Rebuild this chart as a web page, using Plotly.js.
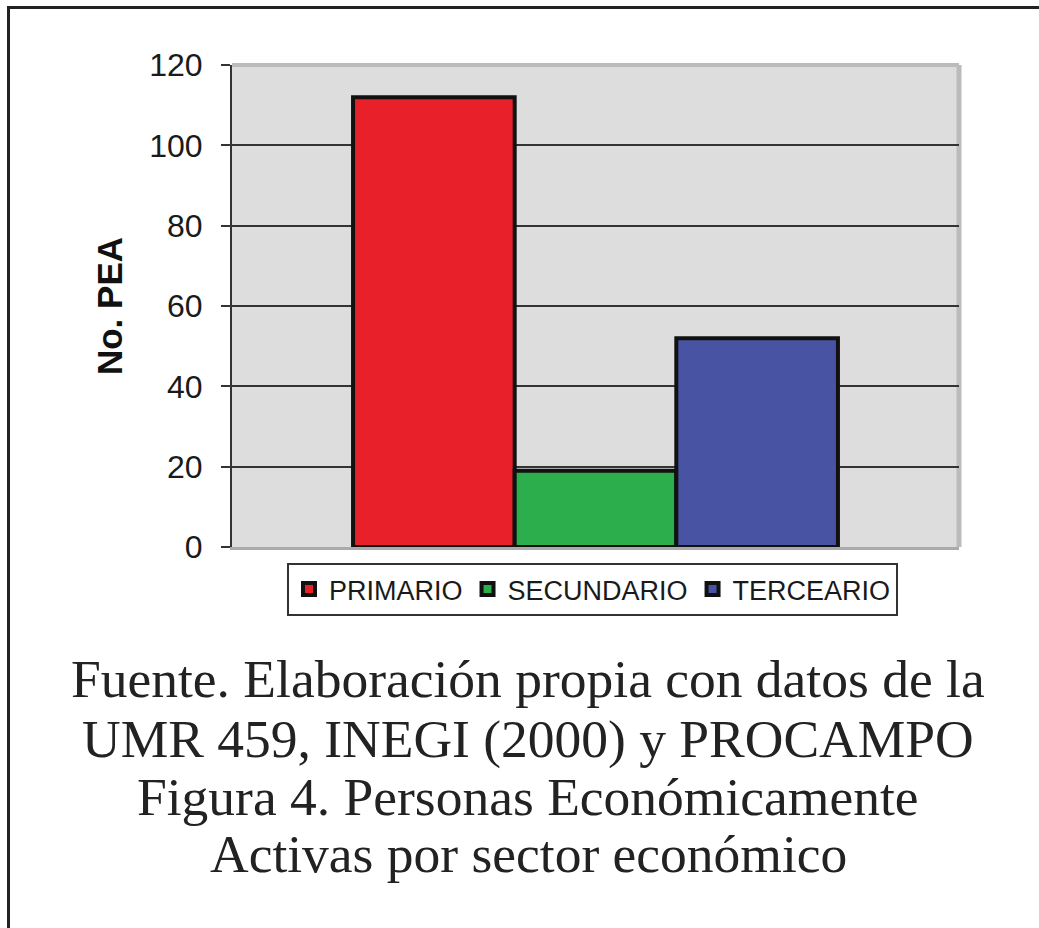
<!DOCTYPE html>
<html>
<head>
<meta charset="utf-8">
<script src="https://cdn.plot.ly/plotly-3.0.1.min.js"></script>
<style>
  html, body { margin: 0; padding: 0; background: #fff; }
  #wrap { position: relative; width: 1039px; height: 928px; overflow: hidden; }
  #chart { position: absolute; left: 0; top: 0; width: 1039px; height: 928px; }
  #frame { position: absolute; left: 7px; top: 6px; width: 1100px; height: 1000px;
           border-top: 3px solid #222; border-left: 3px solid #222; pointer-events: none; }
</style>
</head>
<body>
<div id="wrap">
  <div id="chart"></div>
  <div id="frame"></div>
</div>
<script>
// ---- data ----
const category = ["Sector"];
const seriesNames = ["PRIMARIO", "SECUNDARIO", "TERCEARIO"];
const seriesValues = [112, 19, 52];
const seriesColors = ["#E8202A", "#2BAE4B", "#4853A3"];
const yTickVals = [0, 20, 40, 60, 80, 100, 120];
const yTitle = "No. PEA";
const captionLines = [
  "Fuente. Elaboración propia con datos de la",
  "UMR 459, INEGI (2000) y PROCAMPO",
  "Figura 4. Personas Económicamente",
  "Activas por sector económico"
];

// ---- geometry helpers (pixel -> paper) ----
const L = 232, R = 959, T = 65, B = 547;
const W = R - L, H = B - T;
const px = x => (x - L) / W;
const py = y => (B - y) / H;

const sans = "Arial, 'Liberation Sans', sans-serif";
const serif = "'Liberation Serif', 'Times New Roman', serif";

const traces = seriesNames.map((n, i) => ({
  type: "bar",
  name: n,
  x: category,
  y: [seriesValues[i]],
  marker: { color: seriesColors[i], line: { color: "#111", width: 4 } },
  hoverinfo: "skip"
}));

const captionY = [679, 739, 797, 854];
const annotations = captionLines.map((t, i) => ({
  text: t, xref: "paper", yref: "paper",
  x: px(528), y: py(captionY[i]), xanchor: "center", yanchor: "middle",
  showarrow: false, font: { family: serif, size: 53.5, color: "#222" }
}));

const layout = {
  width: 1039, height: 928,
  margin: { l: L, r: 1039 - R, t: T, b: 928 - B, pad: 0 },
  paper_bgcolor: "#fff",
  plot_bgcolor: "#DDDDDD",
  barmode: "group",
  bargap: 0.333,
  bargroupgap: 0,
  showlegend: true,
  legend: {
    orientation: "h",
    x: px(287), xanchor: "left",
    y: py(563), yanchor: "top",
    bgcolor: "#fff", bordercolor: "#333", borderwidth: 2,
    font: { family: sans, size: 27, color: "#1a1a1a" },
    itemwidth: 30, tracegroupgap: 0
  },
  xaxis: {
    showticklabels: false, ticks: "", showgrid: false, zeroline: false,
    showline: true, linecolor: "#AAAAAA", linewidth: 3, fixedrange: true
  },
  yaxis: {
    range: [0, 120], tickvals: yTickVals, ticks: "outside", ticklen: 9,
    tickwidth: 2, tickcolor: "#333",
    showline: true, linecolor: "#333", linewidth: 2,
    showgrid: true, gridcolor: "#333", gridwidth: 2, zeroline: false,
    tickfont: { family: sans, size: 32, color: "#1a1a1a" },
    ticklabelstandoff: 12,
    title: { text: yTitle, font: { family: sans, size: 35, color: "#111", weight: "bold" }, standoff: 16 },
    fixedrange: true
  },
  shapes: [
    { type: "line", xref: "paper", yref: "paper", x0: 0, x1: 1, y0: 1, y1: 1,
      line: { color: "#BBBBBB", width: 4 }, layer: "below" },
    { type: "line", xref: "paper", yref: "paper", x0: 1, x1: 1, y0: 0, y1: 1,
      line: { color: "#BBBBBB", width: 5 }, layer: "below" }
  ],
  annotations: annotations
};

Plotly.newPlot("chart", traces, layout, { staticPlot: true });
</script>
</body>
</html>
